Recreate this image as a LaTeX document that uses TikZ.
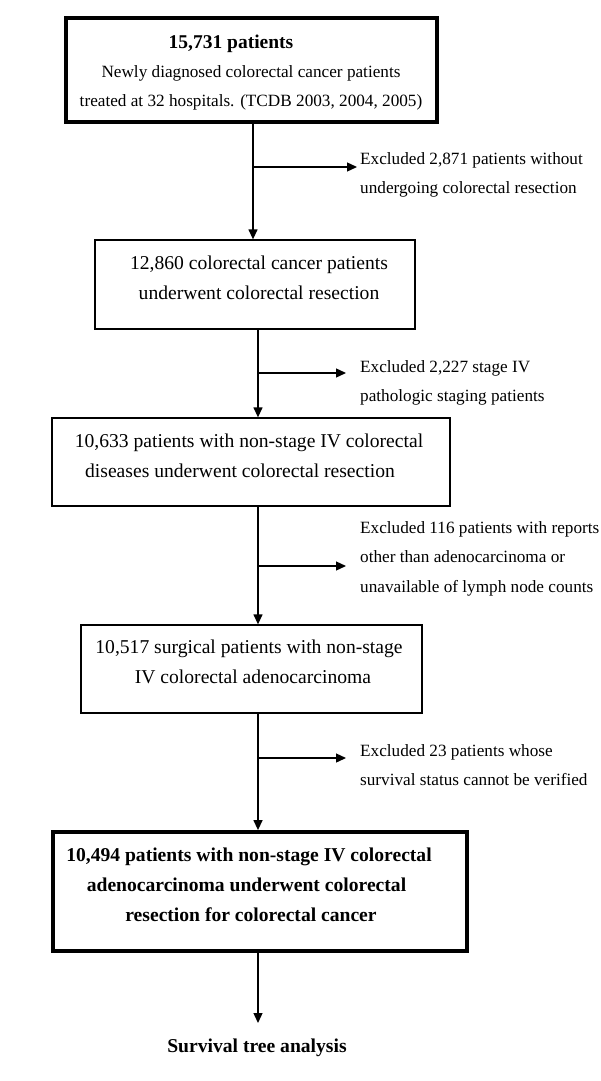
\documentclass[tikz,border=0pt]{standalone}
\usepackage{fontspec}
\setmainfont{Liberation Serif}
\usetikzlibrary{arrows.meta}
\begin{document}
\begin{tikzpicture}[x=1pt,y=-1pt,
  box/.style={draw,line width=1.3pt,inner sep=0pt,minimum width=#1},
  thick box/.style={box=#1,line width=3.2pt},
  txt/.style={inner sep=0pt,align=center,anchor=north,font=\fontsize{19.6}{29.5}\selectfont},
  note/.style={inner sep=0pt,align=left,anchor=north west,font=\fontsize{17.2}{29.5}\selectfont},
  arr/.style={line width=1.3pt,-{Triangle[length=10pt,width=9pt]}}]
\useasboundingbox[fill=white] (0,0) rectangle (600,1081);
% boxes
\node[thick box=371,minimum height=104] (b1) at (251.5,70) {};
\node[box=320,minimum height=89] (b2) at (255,284.5) {};
\node[box=398,minimum height=88] (b3) at (251,462) {};
\node[box=341,minimum height=88] (b4) at (251.5,669) {};
\node[thick box=414,minimum height=119,line width=3.8pt] (b5) at (260,891.5) {};
% box texts
\node[txt,font=\fontsize{17.2}{29}\selectfont] (t1) at (251,35) {{\fontsize{19.5}{29}\selectfont\bfseries 15,731 patients}\kern40pt\\Newly diagnosed colorectal cancer patients\\treated at 32 hospitals. (TCDB 2003, 2004, 2005)};
\node[txt] (t2) at (259,256) {12,860 colorectal cancer patients\\underwent colorectal resection};
\node[txt] (t3) at (249,434) {10,633 patients with non-stage IV colorectal\\diseases underwent colorectal resection\kern18pt};
\node[txt] (t4) at (249,640) {10,517 surgical patients with non-stage\\\kern8pt IV colorectal adenocarcinoma};
\node[txt,font=\fontsize{19.6}{30}\selectfont\bfseries] (t5) at (249,848) {10,494 patients with non-stage IV colorectal\\adenocarcinoma underwent colorectal\kern5pt\\\kern4pt resection for colorectal cancer};
\node[txt,font=\fontsize{19.6}{29.5}\selectfont\bfseries] (t6) at (257,1039) {Survival tree analysis};
% exclusion notes
\node[note] (e1) at (360,152) {Excluded 2,871 patients without\\undergoing colorectal resection};
\node[note] (e2) at (360,360) {Excluded 2,227 stage IV\\pathologic staging patients};
\node[note] (e3) at (360,521) {Excluded 116 patients with reports\\other than adenocarcinoma or\\unavailable of lymph node counts};
\node[note] (e4) at (360,744) {Excluded 23 patients whose\\survival status cannot be verified};
% spine coordinates
\coordinate (s1) at (253,0);
\coordinate (s2) at (258,0);
\coordinate (end) at (258,1023);
% junctions and arrow ends
\coordinate (j1) at (253,167); \coordinate (a1) at (357,167);
\coordinate (j2) at (258,373); \coordinate (a2) at (346,373);
\coordinate (j3) at (258,566); \coordinate (a3) at (346,566);
\coordinate (j4) at (258,758); \coordinate (a4) at (346,758);
% main flow
\draw[arr] (b1.south -| s1) -- (b2.north -| s1);
\draw[arr] (b2.south -| s2) -- (b3.north -| s2);
\draw[arr] (b3.south -| s2) -- (b4.north -| s2);
\draw[arr] (b4.south -| s2) -- (b5.north -| s2);
\draw[arr] (b5.south -| s2) -- (end);
% exclusions
\draw[arr] (j1) -- (a1);
\draw[arr] (j2) -- (a2);
\draw[arr] (j3) -- (a3);
\draw[arr] (j4) -- (a4);
\end{tikzpicture}
\end{document}
